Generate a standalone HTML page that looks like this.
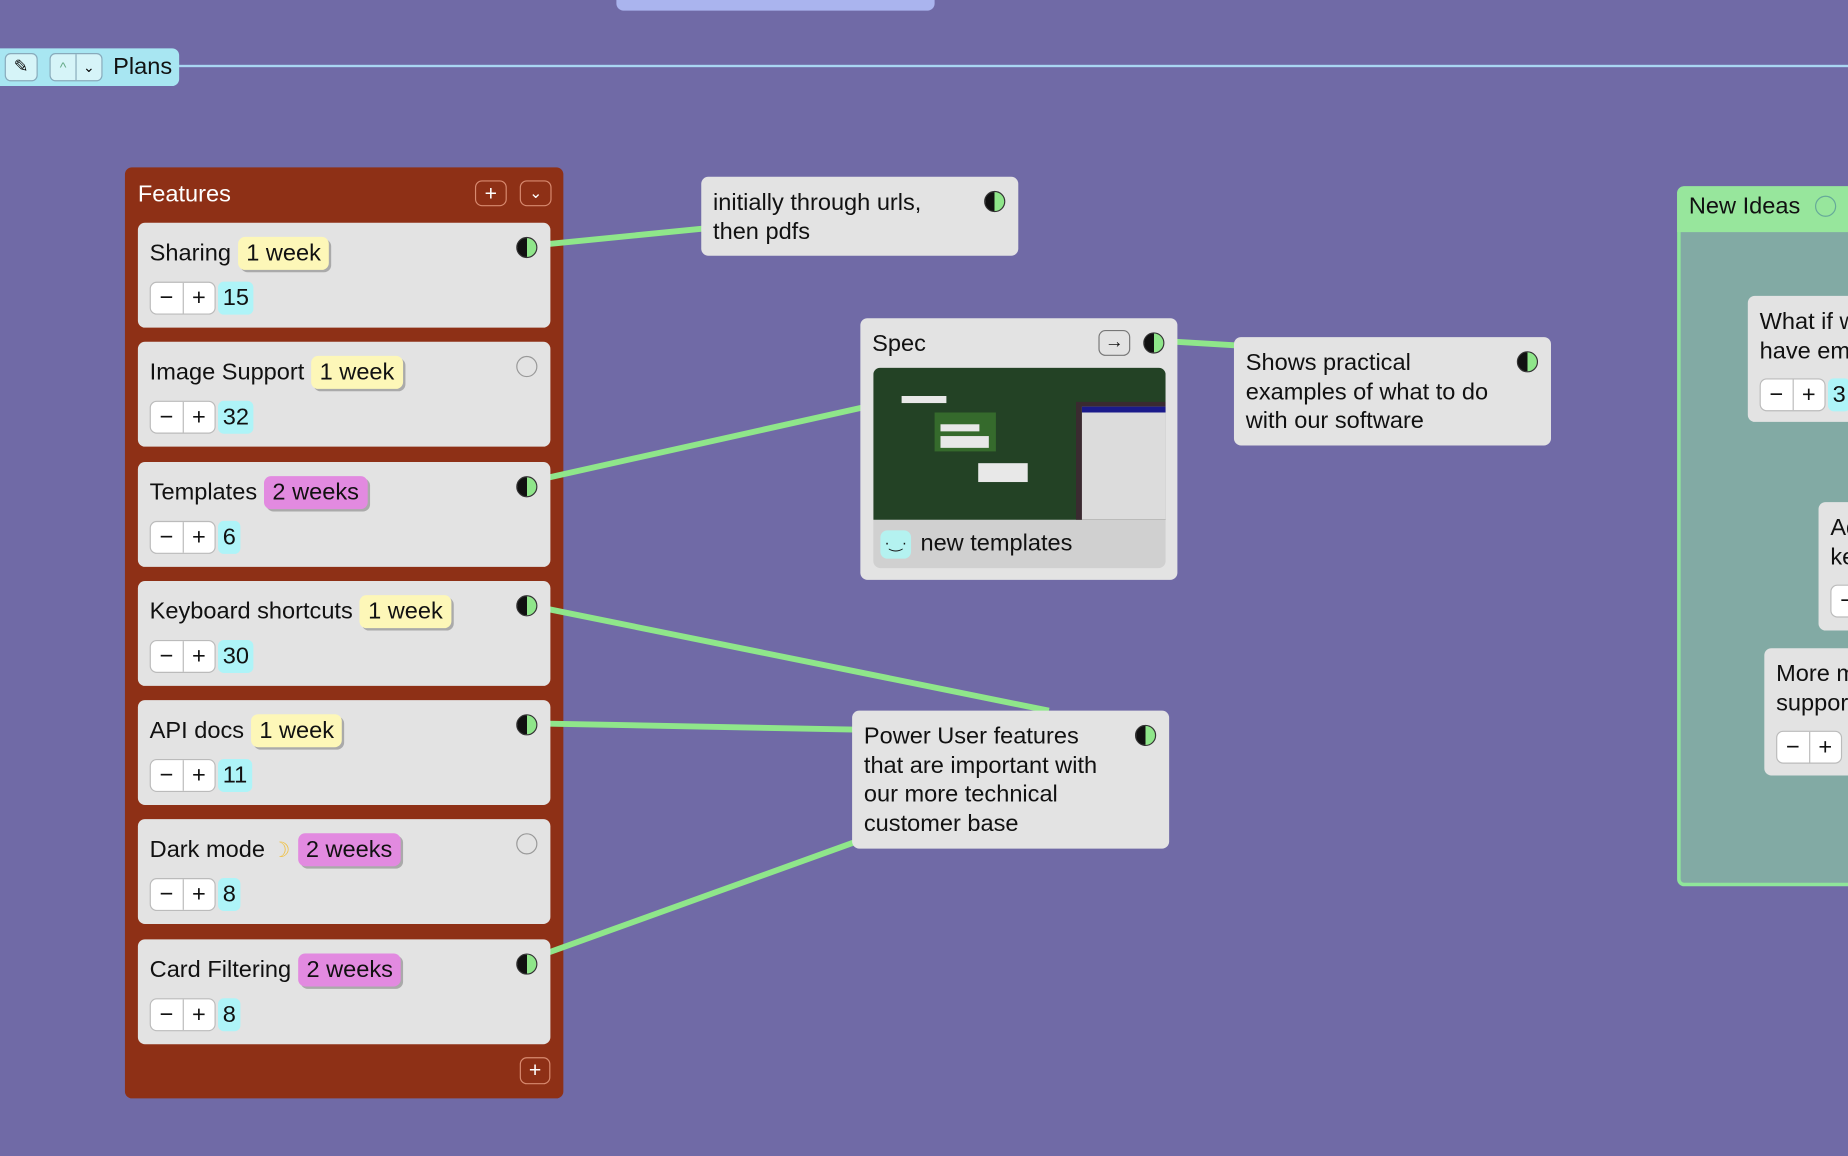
<!DOCTYPE html>
<html><head><meta charset="utf-8"><style>
*{box-sizing:border-box;margin:0;padding:0}
html,body{width:1848px;height:1156px;overflow:hidden;background:#706aa6;font-family:"Liberation Sans",sans-serif}
#w{position:absolute;left:0;top:0;width:1568px;height:981px;transform:scale(1.17857);transform-origin:0 0}
.a{position:absolute}
.card{position:absolute;background:#e3e3e3;border-radius:6px;color:#111;font-size:20px}
.t{position:absolute;left:10px;top:12px;white-space:nowrap;display:flex;align-items:center}
.tag{display:inline-block;border-radius:6px;padding:1px 7px;margin-left:6px;box-shadow:2px 2px 0 #aaa;line-height:26px}
.y{background:#fdf7b8}.p{background:#e28ae0}
.ctr{position:absolute;left:10px;display:flex;align-items:center;font-size:20px}
.btn{width:56px;height:28px;border:1px solid #bbb;border-radius:6px;background:#fff;display:flex}
.btn span{flex:1;text-align:center;line-height:26px}
.btn span:first-child{border-right:1px solid #bbb}
.num{background:#aef4f8;border-radius:5px;padding:0 4px;line-height:28px;margin-left:2px}
.half{position:absolute;width:18px;height:18px;border-radius:50%;background:linear-gradient(90deg,#111 50%,#8fe68a 50%);border:1px solid #333}
.empty{position:absolute;width:18px;height:18px;border-radius:50%;border:1.5px solid #999}
.note{position:absolute;background:#e3e3e3;border-radius:6px;font-size:20px;line-height:24.5px;color:#111;padding:10px}
</style></head><body><div id="w">
<div class="a" style="left:523px;top:-6px;width:270px;height:15px;background:#aab4ee;border-radius:0 0 6px 6px"></div>
<div class="a" style="left:150px;top:55px;width:1420px;height:2px;background:#a9d6f2"></div>
<div class="a" style="left:0;top:41px;width:152px;height:32px;background:#a8e6f2;border-radius:0 6px 6px 0"></div>
<div class="a" style="left:4px;top:45px;width:28px;height:24px;border:1px solid #8ab;border-radius:5px;background:#d6f4f8;font-size:15px;text-align:center;line-height:22px">✎</div>
<div class="a" style="left:42px;top:45px;width:45px;height:24px;border:1px solid #8ab;border-radius:5px;background:#d6f4f8;font-size:12px;display:flex"><span style="flex:1;text-align:center;line-height:22px;border-right:1px solid #8ab;color:#6a8">^</span><span style="flex:1;text-align:center;line-height:22px">⌄</span></div>
<div class="a" style="left:96px;top:46px;font-size:20px;color:#111">Plans</div>

<div class="a" style="left:106px;top:142px;width:372px;height:790px;background:#8e3016;border-radius:6px"></div>
<svg class="a" style="left:0;top:0" width="1568" height="981">
<g stroke="#8fe68a" stroke-width="5" fill="none">
<line x1="466" y1="207" x2="596" y2="194"/>
<line x1="466" y1="405" x2="731" y2="346"/>
<line x1="466" y1="517" x2="890" y2="603"/>
<line x1="466" y1="614" x2="724" y2="619"/>
<line x1="466" y1="808" x2="724" y2="715"/>
<line x1="998" y1="290" x2="1048" y2="293"/>
</g></svg>
<div class="a" style="left:117px;top:154px;color:#fff;font-size:20px">Features</div>
<div class="a" style="left:403px;top:153px;width:27px;height:22px;border:1px solid #d88a70;border-radius:6px;color:#fff;text-align:center;line-height:20px;font-size:18px">+</div>
<div class="a" style="left:441px;top:153px;width:27px;height:22px;border:1px solid #d88a70;border-radius:6px;color:#fff;text-align:center;line-height:20px;font-size:13px">⌄</div>
<div class="a" style="left:441px;top:897px;width:26px;height:23px;border:1px solid #d88a70;border-radius:6px;color:#fff;text-align:center;line-height:21px;font-size:18px">+</div>

<div class="card" style="left:117px;top:189px;width:350px;height:89px"><div class="t">Sharing<span class="tag y">1 week</span></div><div class="half" style="left:321px;top:12px"></div><div class="ctr" style="top:50px"><div class="btn"><span>−</span><span>+</span></div><span class="num">15</span></div></div>
<div class="card" style="left:117px;top:290px;width:350px;height:89px"><div class="t">Image Support<span class="tag y">1 week</span></div><div class="empty" style="left:321px;top:12px"></div><div class="ctr" style="top:50px"><div class="btn"><span>−</span><span>+</span></div><span class="num">32</span></div></div>
<div class="card" style="left:117px;top:392px;width:350px;height:89px"><div class="t">Templates<span class="tag p">2 weeks</span></div><div class="half" style="left:321px;top:12px"></div><div class="ctr" style="top:50px"><div class="btn"><span>−</span><span>+</span></div><span class="num">6</span></div></div>
<div class="card" style="left:117px;top:493px;width:350px;height:89px"><div class="t">Keyboard shortcuts<span class="tag y">1 week</span></div><div class="half" style="left:321px;top:12px"></div><div class="ctr" style="top:50px"><div class="btn"><span>−</span><span>+</span></div><span class="num">30</span></div></div>
<div class="card" style="left:117px;top:594px;width:350px;height:89px"><div class="t">API docs<span class="tag y">1 week</span></div><div class="half" style="left:321px;top:12px"></div><div class="ctr" style="top:50px"><div class="btn"><span>−</span><span>+</span></div><span class="num">11</span></div></div>
<div class="card" style="left:117px;top:695px;width:350px;height:89px"><div class="t">Dark mode&nbsp;<span style="color:#f0c040;font-size:18px">☽</span><span class="tag p">2 weeks</span></div><div class="empty" style="left:321px;top:12px"></div><div class="ctr" style="top:50px"><div class="btn"><span>−</span><span>+</span></div><span class="num">8</span></div></div>
<div class="card" style="left:117px;top:797px;width:350px;height:89px"><div class="t">Card Filtering<span class="tag p">2 weeks</span></div><div class="half" style="left:321px;top:12px"></div><div class="ctr" style="top:50px"><div class="btn"><span>−</span><span>+</span></div><span class="num">8</span></div></div>

<div class="note" style="left:595px;top:150px;width:269px;height:67px">initially through urls,<br>then pdfs<div class="half" style="left:240px;top:12px"></div></div>
<div class="note" style="left:1047px;top:286px;width:269px;height:92px;padding-top:10px">Shows practical<br>examples of what to do<br>with our software<div class="half" style="left:240px;top:12px"></div></div>
<div class="note" style="left:723px;top:603px;width:269px;height:117px">Power User features<br>that are important with<br>our more technical<br>customer base<div class="half" style="left:240px;top:12px"></div></div>

<div class="note" style="left:730px;top:270px;width:269px;height:222px;padding:0">
<div class="a" style="left:10px;top:10px">Spec</div>
<div class="a" style="left:202px;top:10px;width:27px;height:22px;border:1px solid #777;border-radius:6px;text-align:center;line-height:20px;font-size:16px">→</div>
<div class="half" style="left:240px;top:12px"></div>
<div class="a" style="left:11px;top:42px;width:248px;height:170px;border-radius:6px;overflow:hidden;background:#d0d0d0">
<div class="a" style="left:0;top:0;width:248px;height:129px;background:#234225">
<div class="a" style="left:24px;top:24px;width:38px;height:6px;background:#e8e8e8"></div>
<div class="a" style="left:52px;top:38px;width:52px;height:33px;background:#356a2c"></div>
<div class="a" style="left:57px;top:48px;width:33px;height:6px;background:#e8e8e8"></div>
<div class="a" style="left:57px;top:58px;width:41px;height:10px;background:#e8e8e8"></div>
<div class="a" style="left:89px;top:81px;width:42px;height:16px;background:#e8e8e8"></div>
<div class="a" style="left:172px;top:29px;width:76px;height:100px;background:#3a2a30"></div>
<div class="a" style="left:177px;top:33px;width:71px;height:96px;background:#dcdcdc"></div>
<div class="a" style="left:177px;top:33px;width:71px;height:5px;background:#1a1a8a"></div>
</div>
<div class="a" style="left:6px;top:138px;width:26px;height:24px;border-radius:6px;background:#b4f2f0;text-align:center;font-size:13px;line-height:22px">·‿·</div>
<div class="a" style="left:40px;top:137px;font-size:20px">new templates</div>
</div></div>

<div class="a" style="left:1423px;top:158px;width:160px;height:594px;background:#82aaa4;border:3px solid #8fe69a;border-radius:6px"></div>
<div class="a" style="left:1423px;top:158px;width:160px;height:39px;background:#97e69c;border-radius:6px 0 0 0"></div>
<div class="a" style="left:1433px;top:164px;font-size:20px;color:#111">New Ideas</div>
<div class="empty" style="left:1540px;top:166px;border-color:#6a9"></div>
<div class="note" style="left:1483px;top:251px;width:120px;height:107px">What if w<br>have em<div class="ctr" style="top:70px"><div class="btn"><span>−</span><span>+</span></div><span class="num">3</span></div></div>
<div class="note" style="left:1543px;top:426px;width:60px;height:109px">Ad<br>ke<div class="ctr" style="top:70px"><div class="btn"><span>−</span><span>+</span></div></div></div>
<div class="note" style="left:1497px;top:550px;width:100px;height:108px">More m<br>suppor<div class="ctr" style="top:70px"><div class="btn"><span>−</span><span>+</span></div></div></div>
</div></body></html>
